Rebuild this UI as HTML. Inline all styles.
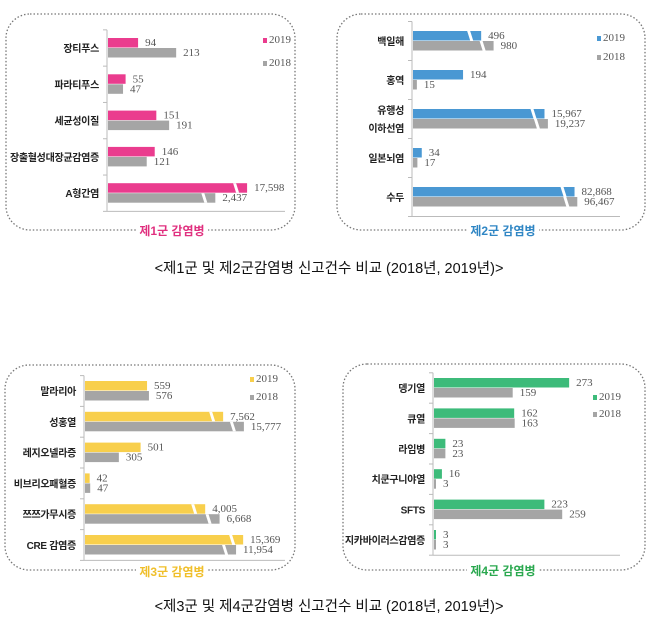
<!DOCTYPE html>
<html><head><meta charset="utf-8">
<style>
body{margin:0;background:#fff;width:658px;height:632px;overflow:hidden}
svg{display:block}
.cat{font-family:"Liberation Sans","Noto Sans CJK KR",sans-serif;font-weight:bold;font-size:10px;letter-spacing:-0.3px;fill:#222}
.val{font-family:"Liberation Serif","Noto Serif CJK SC",serif;font-size:11px;fill:#555}
.leg{font-family:"Liberation Serif",serif;font-size:11px;fill:#555}
.ttl{font-family:"Liberation Sans","Noto Sans CJK KR",sans-serif;font-weight:bold;font-size:12px}
.cap{font-family:"Liberation Sans","Noto Sans CJK KR",sans-serif;font-size:14.5px;fill:#111}
</style></head><body>
<svg id="s" width="658" height="632" viewBox="0 0 658 632" xmlns="http://www.w3.org/2000/svg">
<text class="cap" x="329" y="273" text-anchor="middle">&lt;제1군 및 제2군감염병 신고건수 비교 (2018년, 2019년)&gt;</text>
<text class="cap" x="329" y="611" text-anchor="middle">&lt;제3군 및 제4군감염병 신고건수 비교 (2018년, 2019년)&gt;</text>
</svg>
<script>
const cats1=["장티푸스","파라티푸스","세균성이질","장출혈성대장균감염증","A형간염"];
const v2019_1=[94,55,151,146,17598];
const v2018_1=[213,47,191,121,2437];
const cats2=["백일해","홍역","유행성|이하선염","일본뇌염","수두"];
const v2019_2=[496,194,15967,34,82868];
const v2018_2=[980,15,19237,17,96467];
const cats3=["말라리아","성홍열","레지오넬라증","비브리오패혈증","쯔쯔가무시증","CRE 감염증"];
const v2019_3=[559,7562,501,42,4005,15369];
const v2018_3=[576,15777,305,47,6668,11954];
const cats4=["뎅기열","큐열","라임병","치쿤구니야열","SFTS","지카바이러스감염증"];
const v2019_4=[273,162,23,16,223,3];
const v2018_4=[159,163,23,3,259,3];
const legendLabels=["2019","2018"];

const NS="http://www.w3.org/2000/svg";
const svg=document.getElementById('s');
function mk(tag,attrs,parent){const e=document.createElementNS(NS,tag);for(const k in attrs)e.setAttribute(k,attrs[k]);(parent||svg).appendChild(e);return e;}
function fmt(v){return v.toLocaleString('en-US');}

function chart(cfg){
  const g=mk('g',{});
  
  
  const b=mk('rect',{x:cfg.box[0],y:cfg.box[1],width:cfg.box[2],height:cfg.box[3],rx:24,ry:24,fill:'none',stroke:'#777','stroke-width':1.3,'stroke-dasharray':'1.5 2'},g);
  
  
  const ax=cfg.axisX;
  const x=v=>v<=cfg.cap?v*cfg.k:cfg.cap*cfg.k+Math.log10(v/cfg.cap)*cfg.m;
  const n=cfg.cats.length;
  const axTop=cfg.y0-cfg.step/2, axBot=cfg.y0+cfg.step*(n-0.5);
  const al=mk('line',{x1:ax,y1:axTop,x2:ax,y2:axBot,stroke:'#bbb'},g);
  
  
  const bl=mk('line',{x1:ax,y1:axBot,x2:cfg.axisEnd,y2:axBot,stroke:'#bbb'},g);
  
  
  for(let i=0;i<=n;i++){mk('line',{x1:ax-4,y1:axTop+i*cfg.step,x2:ax,y2:axTop+i*cfg.step,stroke:'#bbb'},g);}
  cfg.cats.forEach((c,i)=>{
    const cy=cfg.y0+i*cfg.step;
    const parts=c.split('|');
    parts.forEach((p,j)=>{
      const t=mk('text',{class:'cat',x:ax-8,y:cy+4+(j-(parts.length-1)/2)*18,'text-anchor':'end'},g);
      t.textContent=p;
      
      
    });
    [[cfg.a[i],cfg.color,cy-10,'bar-2019'],[cfg.b[i],'#a5a5a5',cy,'bar-2018']].forEach(([v,col,y,nm])=>{
      const w=Math.max(x(v),2);
      const r=mk('rect',{x:ax+1,y:y,width:w,height:9.5,fill:col},g);
      
      
      if(v>cfg.cap){
        const bx=ax+1+w-14;
        mk('polygon',{points:`${bx},${y} ${bx+3},${y} ${bx+6},${y+9.5} ${bx+3},${y+9.5}`,fill:'#fff'},g);
      }
      const t=mk('text',{class:'val',x:ax+w+8,y:y+8},g);
      t.textContent=fmt(v);
      
      
    });
  });
  [[cfg.color,0],['#a5a5a5',1]].forEach(([col,j])=>{
    const ly=cfg.leg[1]+j*cfg.leg[2];
    const s=mk('rect',{x:cfg.leg[0],y:ly-5,width:4,height:5,fill:col},g);
    
    
    const t=mk('text',{class:'leg',x:cfg.leg[0]+6,y:ly},g);
    t.textContent=legendLabels[j];
    
    
  });
  mk('rect',{x:cfg.title[0]-36,y:cfg.title[1]-10,width:72,height:18,fill:'#fff'},g);
  const tt=mk('text',{class:'ttl',x:cfg.title[0],y:cfg.title[1]+4,'text-anchor':'middle',fill:cfg.tcolor},g);
  tt.textContent=cfg.ttext;
  
  
}
chart({name:'group-1-chart',box:[6,14,289,216],axisX:107,axisEnd:285,y0:48,step:36.3,cats:cats1,a:v2019_1,b:v2018_1,color:'#ea3c8e',k:0.32,cap:213,m:37,leg:[263,43,23],title:[172,231],tcolor:'#e0307f',ttext:'제1군 감염병'});
chart({name:'group-2-chart',box:[337,14,308,216],axisX:412,axisEnd:620,y0:41,step:39,cats:cats2,a:v2019_2,b:v2018_2,color:'#4a98d3',k:0.258,cap:200,m:42,leg:[597,41,19],title:[503,231],tcolor:'#2f86c4',ttext:'제2군 감염병'});
chart({name:'group-3-chart',box:[5,365,290,205],axisX:84,axisEnd:285,y0:391,step:30.8,cats:cats3,a:v2019_3,b:v2018_3,color:'#f8cf4c',k:0.111,cap:600,m:65,leg:[250,382,18],title:[172,572],tcolor:'#f0bf2a',ttext:'제3군 감염병'});
chart({name:'group-4-chart',box:[343,364,302,206],axisX:433,axisEnd:620,y0:388,step:30.4,cats:cats4,a:v2019_4,b:v2018_4,color:'#3dbb7a',k:0.495,cap:100000,m:0,leg:[593,400,17],title:[503,571],tcolor:'#2aa84f',ttext:'제4군 감염병'});
</script>
</body></html>
